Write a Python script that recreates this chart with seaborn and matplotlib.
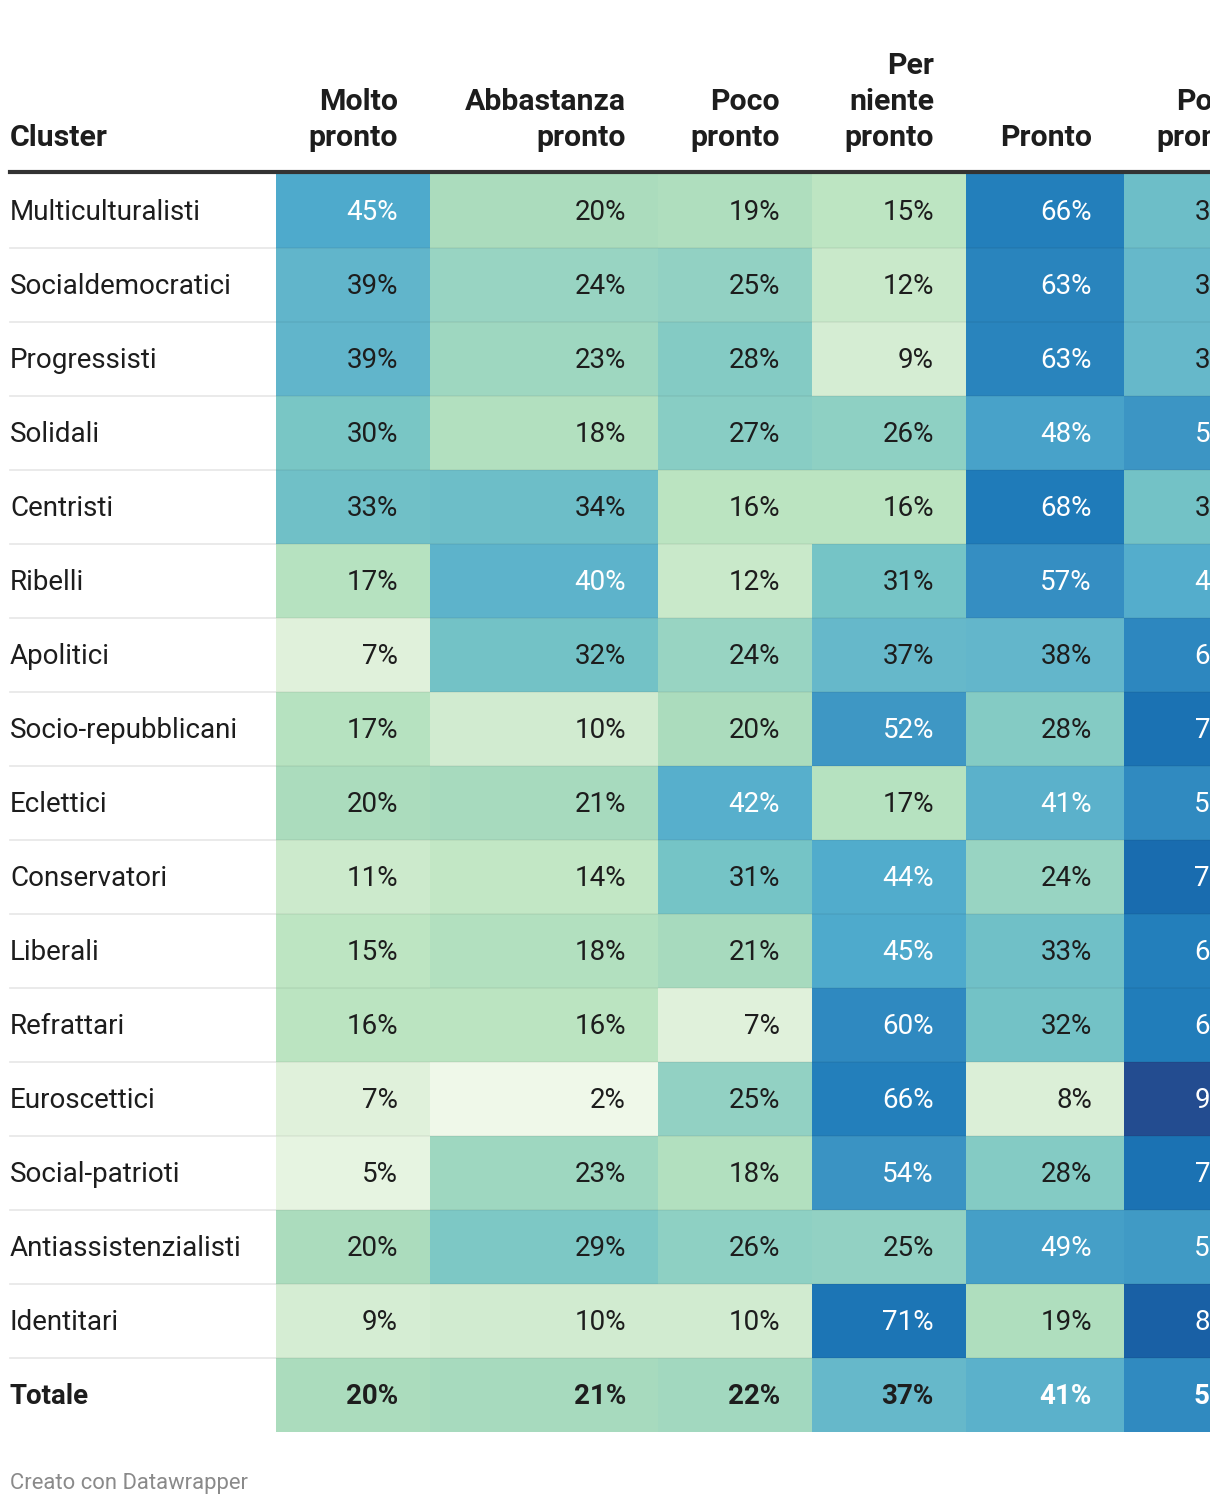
import pandas as pd
import matplotlib.pyplot as plt
import seaborn as sns
from matplotlib.colors import LinearSegmentedColormap
from matplotlib.patches import Rectangle
from matplotlib.lines import Line2D

# dati
clusters = ["Multiculturalisti", "Socialdemocratici", "Progressisti", "Solidali",
            "Centristi", "Ribelli", "Apolitici", "Socio-repubblicani", "Eclettici",
            "Conservatori", "Liberali", "Refrattari", "Euroscettici", "Social-patrioti",
            "Antiassistenzialisti", "Identitari", "Totale"]
molto_pronto = [45, 39, 39, 30, 33, 17, 7, 17, 20, 11, 15, 16, 7, 5, 20, 9, 20]
abbastanza_pronto = [20, 24, 23, 18, 34, 40, 32, 10, 21, 14, 18, 16, 2, 23, 29, 10, 21]
poco_pronto = [19, 25, 28, 27, 16, 12, 24, 20, 42, 31, 21, 7, 25, 18, 26, 10, 22]
per_niente_pronto = [15, 12, 9, 26, 16, 31, 37, 52, 17, 44, 45, 60, 66, 54, 25, 71, 37]
pronto = [66, 63, 63, 48, 68, 57, 38, 28, 41, 24, 33, 32, 8, 28, 49, 19, 41]
poco_pronto_tot = [34, 37, 37, 53, 32, 43, 61, 72, 59, 75, 66, 67, 91, 72, 51, 81, 59]

col_names = ["Molto\npronto", "Abbastanza\npronto", "Poco\npronto",
             "Per\nniente\npronto", "Pronto", "Poco\npronto "]
df = pd.DataFrame({
    col_names[0]: molto_pronto,
    col_names[1]: abbastanza_pronto,
    col_names[2]: poco_pronto,
    col_names[3]: per_niente_pronto,
    col_names[4]: pronto,
    col_names[5]: poco_pronto_tot,
}, index=clusters)

# scala colori stile Datawrapper (verde chiaro -> blu scuro)
cmap = LinearSegmentedColormap.from_list("dw", [
    (0.00, "#f6fbf0"), (0.02, "#eff8e9"), (0.07, "#dff1da"), (0.10, "#d0ebcf"),
    (0.15, "#bde5c2"), (0.20, "#abdcbd"), (0.24, "#98d4c2"), (0.30, "#78c6c5"),
    (0.38, "#63b6cb"), (0.45, "#4eaacc"), (0.52, "#3e97c4"), (0.60, "#2f89c0"),
    (0.68, "#1f7bb9"), (0.76, "#186aae"), (0.82, "#195ea3"), (0.92, "#244a8e"),
    (1.00, "#263f86")])

W, H = 1220, 1506
fig = plt.figure(figsize=(W / 100, H / 100), dpi=100)
fig.patch.set_facecolor("white")
plt.rcParams["font.family"] = ["Roboto", "DejaVu Sans"]

bg = fig.add_axes([0, 0, 1, 1])
bg.set_xlim(0, W)
bg.set_ylim(H, 0)
bg.axis("off")

top, row_h = 174, 74
n = len(clusters)
edges = [276, 430, 658, 812, 966, 1124, 1278]
dark = "#1d1d1d"
fs_head, fs_body = 21.8, 20

# intestazione
bg.text(10, 146, "Cluster", ha="left", va="baseline", fontsize=fs_head,
        fontweight="bold", color=dark)
for i, name in enumerate(col_names):
    bg.text(edges[i + 1] - 32, 152, name.strip(), ha="right", va="bottom",
            fontsize=fs_head, fontweight="bold", color=dark, linespacing=1.36)

# etichette righe
for r, c in enumerate(clusters):
    yc = top + row_h * (r + 0.5)
    bg.text(10, yc + 1, c, ha="left", va="center", fontsize=fs_body, color=dark,
            fontweight="bold" if c == "Totale" else "normal")
    if r > 0:
        bg.plot([10, 276], [top + row_h * r] * 2, color="#e6e6e6", lw=1.2)

# una heatmap per colonna (larghezze diverse)
for i, name in enumerate(col_names):
    x0, x1 = edges[i], edges[i + 1]
    ax = fig.add_axes([x0 / W, 1 - (top + row_h * n) / H, (x1 - x0) / W, row_h * n / H])
    sns.heatmap(df[[name]], ax=ax, cmap=cmap, vmin=0, vmax=100, cbar=False,
                xticklabels=False, yticklabels=False)
    ax.axis("off")
    tx = 1 - 32 / (x1 - x0)
    for r, v in enumerate(df[name]):
        ax.text(tx, r + 0.52, f"{v}%", ha="right", va="center",
                transform=ax.get_yaxis_transform(), fontsize=fs_body,
                color="white" if v >= 40 else dark,
                fontweight="bold" if clusters[r] == "Totale" else "normal")
    for r in range(1, n):
        ax.axhline(r, color=(0, 0, 0, 0.05), lw=1.2)

# taglio a destra come nell'originale
fig.add_artist(Line2D([10 / W, 1210 / W], [1 - 172 / H] * 2, transform=fig.transFigure,
                      color="#333333", lw=3, zorder=6))
fig.add_artist(Rectangle((1210 / W, 0), 10 / W, 1, transform=fig.transFigure,
                         facecolor="white", edgecolor="none", zorder=7))

bg.text(10, 1483, "Creato con Datawrapper", ha="left", va="center",
        fontsize=15.8, color="#8a8a8a")

fig.savefig("out.png", dpi=100)
